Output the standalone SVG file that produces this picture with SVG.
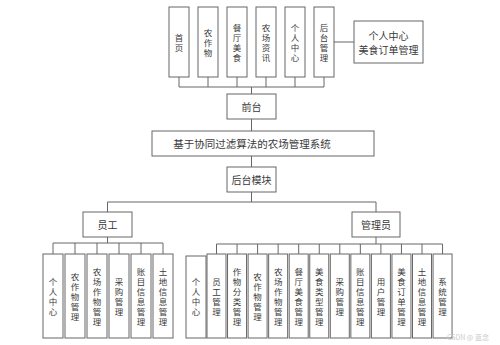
<svg xmlns="http://www.w3.org/2000/svg" width="500" height="345" viewBox="0 0 500 345">
<style>
rect{fill:#fff;stroke:#666;stroke-width:1}
.c line,.c path{stroke:#666;stroke-width:1;fill:none}
text{font-family:"Noto Sans CJK SC","Noto Sans",sans-serif;fill:#3a3a3a;font-size:8.5px;text-anchor:middle;dominant-baseline:central}
.m{font-size:10px}
.t{font-size:10.5px}
.w{font-size:7px;fill:#ccc}
</style>
<rect x="0" y="0" width="500" height="345" style="stroke:none"/>
<g class="c" id="connectors">
<path d="M179 77V87M208 77V87M237 77V87M266 77V87M295 77V87M324 77V87M179 87H324M251.5 87V94"/>
<path d="M334 42H354"/>
<path d="M251.5 119V131M251.5 156V167M251.5 192V202M107.5 202H376M107.5 202V212M376 202V212"/>
<path d="M107.5 237V243M53 243H163M53 243V254M75 243V254M97 243V254M119 243V254M141 243V254M163 243V254"/>
<path d="M376 237V244M216.5 244H442.55M216.5 244V254M237.05 244V254M257.6 244V254M278.15 244V254M298.7 244V254M319.25 244V254M339.8 244V254M360.35 244V254M380.9 244V254M401.45 244V254M422 244V254M442.55 244V254"/>
</g>
<g id="n-shouye"><rect x="169" y="7" width="20" height="70"/><text x="179 179" y="37 47">首页</text></g>
<g id="n-nongzuowu"><rect x="198" y="7" width="20" height="70"/><text x="208 208 208" y="32 42 52">农作物</text></g>
<g id="n-canting"><rect x="227" y="7" width="20" height="70"/><text x="237 237 237 237" y="27 37 47 57">餐厅美食</text></g>
<g id="n-zixun"><rect x="256" y="7" width="20" height="70"/><text x="266 266 266 266" y="27 37 47 57">农场资讯</text></g>
<g id="n-geren-top"><rect x="285" y="7" width="20" height="70"/><text x="295 295 295 295" y="27 37 47 57">个人中心</text></g>
<g id="n-houtai-top"><rect x="314" y="7" width="20" height="70"/><text x="324 324 324 324" y="27 37 47 57">后台管理</text></g>
<g id="n-right"><rect x="354" y="21" width="69" height="42"/><text class="m" x="388.5" y="35">个人中心</text><text class="m" x="388.5" y="49">美食订单管理</text></g>
<g id="n-qiantai"><rect x="227" y="94" width="49" height="25"/><text class="m" x="251.5" y="106.5">前台</text></g>
<g id="n-system"><rect x="152" y="131" width="222" height="25"/><text class="t" x="252" y="143.5">基于协同过滤算法的农场管理系统</text></g>
<g id="n-houtaimokuai"><rect x="227" y="167" width="49" height="25"/><text class="m" x="251.5" y="179.5">后台模块</text></g>
<g id="n-yuangong"><rect x="83" y="212" width="49" height="25"/><text class="m" x="107.5" y="224.5">员工</text></g>
<g id="n-guanliyuan"><rect x="352" y="212" width="48" height="25"/><text class="m" x="376" y="224.5">管理员</text></g>
<g id="e1"><rect x="43" y="254" width="20" height="84"/><text x="53 53 53 53" y="281 291 301 311">个人中心</text></g>
<g id="e2"><rect x="65" y="254" width="20" height="84"/><text x="75 75 75 75 75" y="276 286 296 306 316">农作物管理</text></g>
<g id="e3"><rect x="87" y="254" width="20" height="84"/><text x="97 97 97 97 97 97" y="271 281 291 301 311 321">农场作物管理</text></g>
<g id="e4"><rect x="109" y="254" width="20" height="84"/><text x="119 119 119 119" y="281 291 301 311">采购管理</text></g>
<g id="e5"><rect x="131" y="254" width="20" height="84"/><text x="141 141 141 141 141 141" y="271 281 291 301 311 321">账目信息管理</text></g>
<g id="e6"><rect x="153" y="254" width="20" height="84"/><text x="163 163 163 163 163 163" y="271 281 291 301 311 321">土地信息管理</text></g>
<g id="a0"><rect x="186" y="256" width="20" height="82"/><text x="196 196 196 196" y="281 291 301 311">个人中心</text></g>
<g id="a1"><rect x="207" y="254" width="19" height="84"/><text x="216.5 216.5 216.5 216.5" y="281 291 301 311">员工管理</text></g>
<g id="a2"><rect x="227.55" y="254" width="19" height="84"/><text x="237.05 237.05 237.05 237.05 237.05 237.05" y="271 281 291 301 311 321">作物分类管理</text></g>
<g id="a3"><rect x="248.1" y="254" width="19" height="84"/><text x="257.6 257.6 257.6 257.6 257.6" y="276 286 296 306 316">农作物管理</text></g>
<g id="a4"><rect x="268.65" y="254" width="19" height="84"/><text x="278.15 278.15 278.15 278.15 278.15 278.15" y="271 281 291 301 311 321">农场作物管理</text></g>
<g id="a5"><rect x="289.2" y="254" width="19" height="84"/><text x="298.7 298.7 298.7 298.7 298.7 298.7" y="271 281 291 301 311 321">餐厅美食管理</text></g>
<g id="a6"><rect x="309.75" y="254" width="19" height="84"/><text x="319.25 319.25 319.25 319.25 319.25 319.25" y="271 281 291 301 311 321">美食类型管理</text></g>
<g id="a7"><rect x="330.3" y="254" width="19" height="84"/><text x="339.8 339.8 339.8 339.8" y="281 291 301 311">采购管理</text></g>
<g id="a8"><rect x="350.85" y="254" width="19" height="84"/><text x="360.35 360.35 360.35 360.35 360.35 360.35" y="271 281 291 301 311 321">账目信息管理</text></g>
<g id="a9"><rect x="371.4" y="254" width="19" height="84"/><text x="380.9 380.9 380.9 380.9" y="281 291 301 311">用户管理</text></g>
<g id="a10"><rect x="391.95" y="254" width="19" height="84"/><text x="401.45 401.45 401.45 401.45 401.45 401.45" y="271 281 291 301 311 321">美食订单管理</text></g>
<g id="a11"><rect x="412.5" y="254" width="19" height="84"/><text x="422 422 422 422 422 422" y="271 281 291 301 311 321">土地信息管理</text></g>
<g id="a12"><rect x="433.05" y="254" width="19" height="84"/><text x="442.55 442.55 442.55 442.55" y="281 291 301 311">系统管理</text></g>
<text class="w" x="468" y="337">CSDN @ 蓝念</text>
</svg>
